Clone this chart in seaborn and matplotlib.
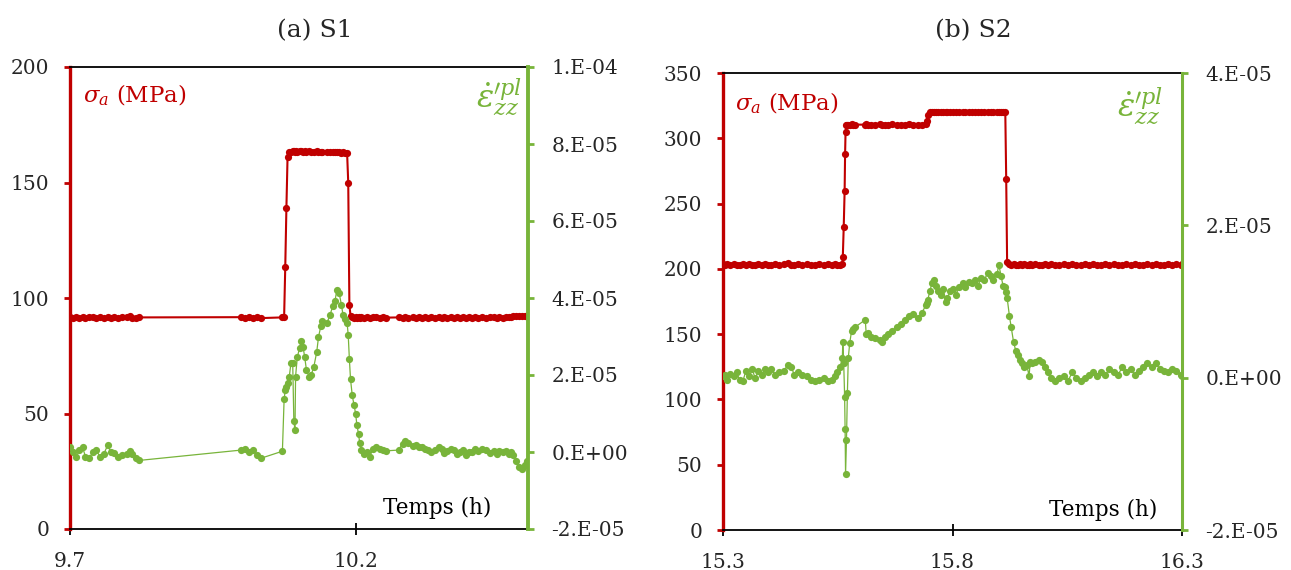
import matplotlib
matplotlib.use("Agg")
import matplotlib.pyplot as plt
import seaborn as sns
import pandas as pd

RED = "#C00000"
GREEN = "#78B43A"

# (a) S1 : time (h), applied stress (MPa), plastic strain rate (in 1E-05)
T_A = [9.700, 9.706, 9.711, 9.716, 9.722, 9.727, 9.734, 9.740, 9.746, 9.752,
       9.759, 9.766, 9.771, 9.777, 9.784, 9.791, 9.799, 9.804, 9.809, 9.815,
       9.820,
       9.999, 10.006, 10.013, 10.020, 10.027, 10.034,
       10.071, 10.074, 10.076, 10.078, 10.080, 10.083, 10.086, 10.089, 10.091, 10.093,
       10.094, 10.097, 10.101, 10.104, 10.107, 10.110, 10.113, 10.118, 10.121, 10.126,
       10.131, 10.134, 10.138, 10.141, 10.149, 10.154, 10.159, 10.163, 10.166, 10.170,
       10.174, 10.177, 10.181, 10.184, 10.186, 10.188, 10.190, 10.193, 10.196, 10.199,
       10.201, 10.204, 10.206, 10.209, 10.213, 10.219, 10.224, 10.229, 10.234, 10.241,
       10.246, 10.252,
       10.274, 10.281, 10.286, 10.291, 10.299, 10.304, 10.309, 10.314, 10.320, 10.326,
       10.331, 10.338, 10.344, 10.349, 10.354, 10.359, 10.365, 10.370, 10.376, 10.381,
       10.386, 10.391, 10.397, 10.402, 10.408, 10.413, 10.420, 10.427, 10.434, 10.440,
       10.445, 10.450, 10.456, 10.461, 10.466, 10.471, 10.474, 10.479, 10.484, 10.490,
       10.495, 10.499]
SIG_A = [91.6, 91.3, 91.8, 91.4, 91.7, 91.2, 91.6, 91.9, 91.4, 91.7,
         91.3, 91.8, 91.5, 91.9, 91.4, 91.6, 91.8, 92.0, 91.5, 91.3,
         91.6,
         91.7, 91.4, 91.8, 91.5, 91.6, 91.3,
         91.6, 91.7, 113.5, 139.0, 161.0, 163.0, 163.4, 163.6, 163.5, 163.3,
         163.6, 163.4, 163.5, 163.7, 163.4, 163.5, 163.3, 163.6, 163.4, 163.2,
         163.5, 163.3, 163.4, 163.2, 163.3, 163.1, 163.2, 163.0, 163.1, 163.0,
         162.9, 163.0, 162.8, 162.9, 150.0, 97.0, 92.4, 91.8, 91.5, 91.9,
         91.4, 91.7, 91.3, 91.8, 91.5, 91.7, 91.3, 91.6, 91.8, 91.4,
         91.6, 91.5,
         91.6, 91.4, 91.7, 91.5, 91.8, 91.4, 91.6, 91.3, 91.7, 91.5,
         91.8, 91.4, 91.6, 91.5, 91.8, 91.4, 91.7, 91.5, 91.6, 91.3,
         91.7, 91.5, 91.8, 91.4, 91.6, 91.5, 91.7, 91.4, 91.6, 91.8,
         91.5, 91.7, 91.4, 91.6, 91.8, 91.9, 92.1, 92.3, 92.2, 92.4,
         92.1, 92.0]
EPS_A = [0.12, 0.00, -0.14, 0.05, 0.12, -0.12, -0.16, 0.00, 0.05, -0.12,
         -0.05, 0.18, 0.00, -0.03, -0.12, -0.09, -0.05, 0.03, -0.05, -0.16,
         -0.22,
         0.05, 0.07, 0.00, 0.05, -0.09, -0.16,
         0.02, 1.37, 1.61, 1.70, 1.80, 1.95, 2.32, 2.32, 0.80, 0.57,
         1.96, 2.46, 2.70, 2.89, 2.74, 2.46, 2.13, 1.94, 1.99, 2.22,
         2.60, 2.98, 3.26, 3.41, 3.36, 3.55, 3.79, 3.93, 4.21, 4.14,
         3.83, 3.55, 3.45, 3.36, 3.03, 2.41, 1.89, 1.47, 1.23, 0.99,
         0.71, 0.47, 0.24, 0.05, -0.05, 0.00, -0.12, 0.09, 0.14, 0.07,
         0.05, 0.03,
         0.05, 0.22, 0.28, 0.24, 0.16, 0.18, 0.12, 0.14, 0.09, 0.05,
         0.00, 0.05, 0.12, 0.09, -0.03, 0.03, 0.07, 0.05, -0.05, 0.00,
         0.05, -0.09, 0.00, 0.00, 0.07, 0.02, 0.07, 0.05, -0.03, 0.03,
         -0.05, 0.02, 0.00, 0.03, -0.05, 0.00, -0.07, -0.24, -0.38, -0.43,
         -0.33, -0.24]

# (b) S2
T_B = [15.300, 15.305, 15.309, 15.316, 15.323, 15.330, 15.336, 15.343, 15.350, 15.357,
       15.364, 15.370, 15.377, 15.385, 15.391, 15.398, 15.405, 15.414, 15.423, 15.432,
       15.441, 15.449, 15.455, 15.464, 15.473, 15.482, 15.491, 15.500, 15.510, 15.519,
       15.528, 15.537, 15.543, 15.549, 15.555, 15.560, 15.561, 15.563, 15.565, 15.566,
       15.567, 15.569, 15.571, 15.573, 15.576, 15.580, 15.583, 15.587,
       15.610, 15.612, 15.616, 15.623, 15.632, 15.642, 15.646, 15.653, 15.660, 15.669,
       15.678, 15.687, 15.696, 15.705, 15.714, 15.724, 15.733, 15.742, 15.744, 15.746,
       15.751, 15.755, 15.760, 15.765, 15.769, 15.774, 15.780, 15.785, 15.789, 15.795,
       15.801, 15.807, 15.815, 15.822, 15.828, 15.835, 15.842, 15.849, 15.856, 15.862,
       15.869, 15.877, 15.883, 15.889, 15.897, 15.901, 15.906, 15.910, 15.915, 15.917,
       15.919, 15.924, 15.928, 15.933, 15.938, 15.942, 15.947, 15.951, 15.956, 15.962,
       15.967, 15.969, 15.974, 15.980, 15.988, 15.995, 16.001, 16.008, 16.015, 16.024,
       16.033, 16.042, 16.051, 16.061, 16.070, 16.079, 16.088, 16.097, 16.106, 16.115,
       16.124, 16.133, 16.142, 16.152, 16.161, 16.170, 16.179, 16.188, 16.197, 16.206,
       16.215, 16.224, 16.234, 16.243, 16.252, 16.261, 16.270, 16.279, 16.288, 16.297,
       16.300]
SIG_B = [203.5, 203.1, 203.4, 203.2, 203.6, 203.3, 203.1, 203.4, 203.2, 203.5,
         203.3, 203.1, 203.4, 203.2, 203.5, 203.3, 203.1, 203.4, 203.2, 203.6,
         204.2, 203.3, 203.1, 203.4, 203.2, 203.5, 203.3, 203.1, 203.4, 203.2,
         203.5, 203.3, 203.4, 203.2, 203.3, 203.4, 208.9, 232.0, 260.0, 288.0,
         305.0, 310.0, 310.4, 310.5, 310.3, 310.6, 310.4, 310.5,
         310.4, 310.6, 310.3, 310.5, 310.4, 310.6, 310.3, 310.5, 310.4, 310.6,
         310.3, 310.5, 310.4, 310.6, 310.3, 310.5, 310.4, 310.6, 313.0, 317.6,
         320.0, 320.3, 320.4, 320.2, 320.4, 320.3, 320.5, 320.2, 320.4, 320.3,
         320.5, 320.2, 320.4, 320.3, 320.5, 320.2, 320.4, 320.3, 320.5, 320.2,
         320.4, 320.3, 320.5, 320.2, 320.4, 320.3, 320.5, 320.3, 320.4, 268.8,
         205.0, 203.4, 203.2, 203.5, 203.3, 203.1, 203.4, 203.2, 203.5, 203.3,
         203.1, 203.4, 203.2, 203.5, 203.3, 203.1, 203.4, 203.2, 203.5, 203.3,
         203.1, 203.4, 203.2, 203.5, 203.3, 203.1, 203.4, 203.2, 203.5, 203.3,
         203.1, 203.4, 203.2, 203.5, 203.3, 203.1, 203.4, 203.2, 203.5, 203.3,
         203.1, 203.4, 203.2, 203.5, 203.3, 203.1, 203.4, 203.2, 203.5, 203.3,
         203.4]
EPS_B = [0.02, 0.04, -0.03, 0.05, 0.02, 0.07, -0.03, -0.05, 0.09, 0.02,
         0.11, -0.01, 0.09, 0.04, 0.11, 0.07, 0.11, 0.04, 0.07, 0.09,
         0.16, 0.14, 0.04, 0.07, 0.04, 0.02, -0.03, -0.05, -0.03, -0.01,
         -0.05, -0.03, 0.02, 0.07, 0.14, 0.26, 0.47, 0.19, -0.25, -0.68,
         -1.27, -0.82, -0.20, 0.26, 0.45, 0.61, 0.64, 0.66,
         0.76, 0.57, 0.59, 0.54, 0.52, 0.50, 0.47, 0.54, 0.57, 0.61,
         0.66, 0.71, 0.76, 0.81, 0.83, 0.78, 0.85, 0.95, 0.98, 1.02,
         1.14, 1.24, 1.28, 1.21, 1.14, 1.09, 1.17, 0.99, 1.05, 1.14,
         1.17, 1.09, 1.19, 1.24, 1.19, 1.26, 1.24, 1.28, 1.21, 1.31,
         1.28, 1.38, 1.33, 1.28, 1.36, 1.48, 1.33, 1.21, 1.19, 1.12,
         1.05, 0.81, 0.66, 0.47, 0.35, 0.30, 0.23, 0.19, 0.14, 0.16,
         0.02, 0.21, 0.19, 0.21, 0.23, 0.21, 0.14, 0.07, -0.01, -0.05,
         -0.01, 0.02, -0.05, 0.07, -0.01, -0.05, -0.01, 0.04, 0.07, 0.02,
         0.07, 0.04, 0.11, 0.07, 0.04, 0.14, 0.07, 0.11, 0.04, 0.09,
         0.14, 0.19, 0.14, 0.19, 0.11, 0.09, 0.07, 0.11, 0.09, 0.04,
         0.02]

XTICKS_A = [9.7, 10.2]
XTICKS_B = [15.3, 15.8, 16.3]
YTICKS_A = [0, 50, 100, 150, 200]
YTICKS_B = [0, 50, 100, 150, 200, 250, 300, 350]
EPS_TICKS_A = [-2, 0, 2, 4, 6, 8, 10]
EPS_LABELS_A = ["-2.E-05", "0.E+00", "2.E-05", "4.E-05", "6.E-05", "8.E-05", "1.E-04"]
EPS_TICKS_B = [-2, 0, 2, 4]
EPS_LABELS_B = ["-2.E-05", "0.E+00", "2.E-05", "4.E-05"]

sns.set_theme(style="white")
plt.rcParams["font.family"] = ["DejaVu Serif"]
plt.rcParams["mathtext.fontset"] = "dejavuserif"

W, H = 1291, 570


def draw_panel(fig, box, t, sig, eps, xticks, yticks, eps_ticks, eps_labels,
               title, title_x, txt, right_lw):
    x0, y0, x1, y1 = box
    ax = fig.add_axes([x0 / W, 1 - y1 / H, (x1 - x0) / W, (y1 - y0) / H])
    df = pd.DataFrame({"t": t, "sig": sig, "eps": eps})

    sns.lineplot(data=df, x="t", y="sig", color=RED, marker="o", markersize=5.2,
                 markeredgewidth=0, linewidth=1.5, estimator=None, sort=False, ax=ax)
    ax2 = ax.twinx()
    sns.lineplot(data=df, x="t", y="eps", color=GREEN, marker="o", markersize=5.2,
                 markeredgewidth=0, linewidth=0.9, estimator=None, sort=False, ax=ax2)

    ax.set_xlim(xticks[0], xticks[0] + (0.8 if len(xticks) == 2 else 1.0))
    ax.set_ylim(yticks[0], yticks[-1])
    ax2.set_ylim(eps_ticks[0], eps_ticks[-1])
    ax.set_xticks(xticks)
    ax.set_xticklabels([f"{v:.1f}" for v in xticks])
    ax.set_yticks(yticks)
    ax2.set_yticks(eps_ticks)
    ax2.set_yticklabels(eps_labels)
    ax.set_xlabel("")
    ax.set_ylabel("")
    ax2.set_ylabel("")

    for a in (ax, ax2):
        for s in a.spines.values():
            s.set_visible(False)
    ax.spines["left"].set_visible(True)
    ax.spines["left"].set_color(RED)
    ax.spines["left"].set_linewidth(2.4)
    ax2.spines["right"].set_visible(True)
    ax2.spines["right"].set_color(GREEN)
    ax2.spines["right"].set_linewidth(right_lw)
    for side in ("top", "bottom"):
        ax.spines[side].set_visible(True)
        ax.spines[side].set_color("black")
        ax.spines[side].set_linewidth(1.3)

    ax.tick_params(axis="x", direction="inout", length=9, width=1.3, color="black",
                   labelsize=14.5, pad=12, bottom=True)
    ax.tick_params(axis="y", direction="out", length=4, width=2, color=RED,
                   labelsize=14.5, pad=11, left=True)
    ax2.tick_params(axis="y", direction="out", length=4, width=2, color=GREEN,
                    labelsize=14.5, pad=13, right=True)

    ax.text(txt[0], txt[1], r"$\sigma_a$ (MPa)", color=RED, fontsize=16.5,
            ha="left", va="center", transform=ax.transAxes)
    ax.text(txt[2], txt[3], r"$\dot{\varepsilon}_{zz}^{\prime pl}$", color=GREEN,
            fontsize=23, ha="right", va="center", transform=ax.transAxes)
    ax.text(txt[4], txt[5], "Temps (h)", color="black", fontsize=15.5,
            ha="right", va="center", transform=ax.transAxes)
    fig.text(title_x / W, 1 - 31 / H, title, ha="center", va="center", fontsize=18)


fig = plt.figure(figsize=(W / 100, H / 100), dpi=100)
draw_panel(fig, (70, 67, 528, 529), T_A, SIG_A, EPS_A, XTICKS_A, YTICKS_A,
           EPS_TICKS_A, EPS_LABELS_A, "(a) S1", 315,
           (0.028, 0.939, 0.987, 0.935, 0.921, 0.045), 2.8)
draw_panel(fig, (723, 73, 1182, 530), T_B, SIG_B, EPS_B, XTICKS_B, YTICKS_B,
           EPS_TICKS_B, EPS_LABELS_B, "(b) S2", 973,
           (0.026, 0.934, 0.959, 0.928, 0.946, 0.044), 2.2)

fig.savefig("out.png", dpi=100)
